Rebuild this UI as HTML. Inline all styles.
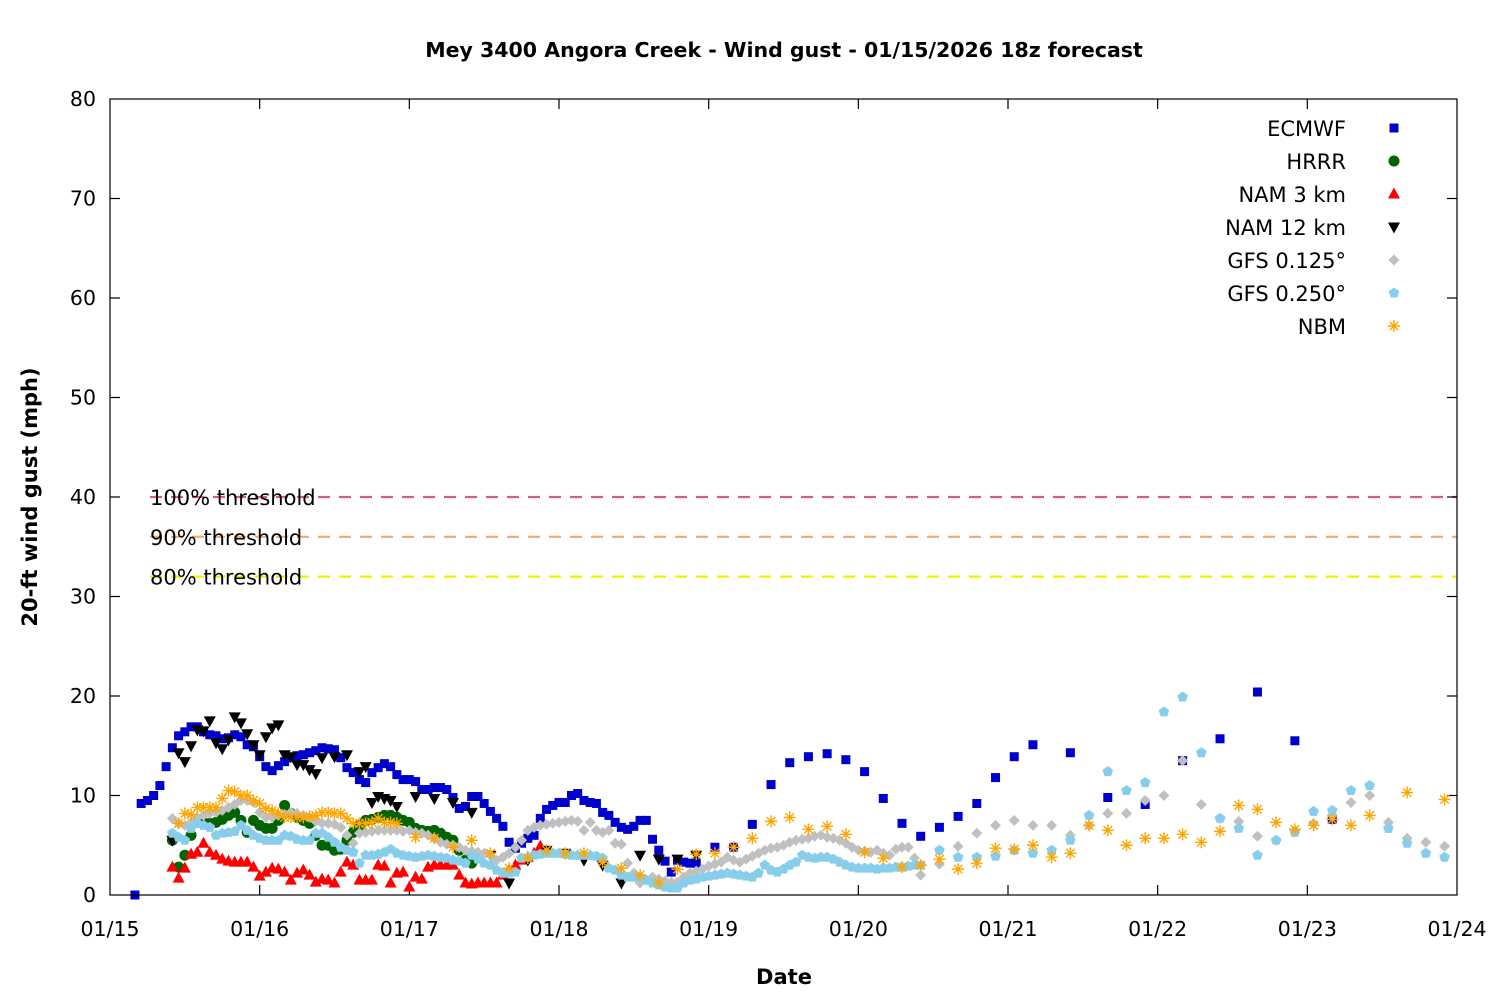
<!DOCTYPE html>
<html><head><meta charset="utf-8"><style>
html,body{margin:0;padding:0;background:#fff;}
svg{display:block;font-family:"DejaVu Sans","Liberation Sans",sans-serif;}
</style></head><body>
<svg id="chart" width="1500" height="1000" viewBox="0 0 1500 1000" xmlns="http://www.w3.org/2000/svg">
<rect x="0" y="0" width="1500" height="1000" fill="#fff"/>
<text x="784" y="57" text-anchor="middle" font-size="20.5" font-weight="bold">Mey 3400 Angora Creek - Wind gust - 01/15/2026 18z forecast</text>
<text x="784" y="984" text-anchor="middle" font-size="21" font-weight="bold">Date</text>
<text transform="translate(37,497) rotate(-90)" text-anchor="middle" font-size="21" font-weight="bold">20-ft wind gust (mph)</text>
<g id="thresholds"></g>
<g id="axes"></g>
<g id="marks"></g>
<g id="legend"></g>
<rect x="110" y="99" width="1347" height="796" fill="none" stroke="#000" stroke-width="1.2"/>
</svg>
<script>
// ---- data ----
const xTickLabels = ["01/15","01/16","01/17","01/18","01/19","01/20","01/21","01/22","01/23","01/24"];
const yTickValues = [0,10,20,30,40,50,60,70,80];
const thresholdValues = [40,36,32];
const thresholdLabels = ["100% threshold","90% threshold","80% threshold"];
const seriesNames = ["ECMWF","HRRR","NAM 3 km","NAM 12 km","GFS 0.125°","GFS 0.250°","NBM"];

const ecmwfHourlyStart = 4;
const ecmwfHourly = [0,9.2,9.5,10,11,12.9,14.8,16,16.4,16.9,16.9,16.4,16.1,16,15.7,15.8,16.1,15.9,15.1,14.9,13.9,12.9,12.5,13,13.4,13.8,14,14.1,14.3,14.5,14.8,14.7,14.6,13.8,12.8,12.3,11.6,11.3,12.3,12.8,13.2,12.9,12.1,11.6,11.6,11.4,10.6,10.6,10.8,10.8,10.6,9.8,8.7,8.9,9.9,9.9,9.2,8.4,7.7,6.9,5.3,4.7,5.2,5.7,6,7.7,8.6,9,9.3,9.3,10,10.2,9.5,9.3,9.2,8.3,8.0,7.3,6.8,6.6,6.9,7.5,7.5,5.6,4.5,3.4,2.3,3.5,3.3,3.2,3.2];
const ecmwf3hStart = 97;
const ecmwf3h = [4.8,4.8,7.1,11.1,13.3,13.9,14.2,13.6,12.4,9.7,7.2,5.9,6.8,7.9,9.2,11.8,13.9,15.1];
const ecmwf6hStart = 154;
const ecmwf6h = [14.3,9.8,9.1,13.5,15.7,20.4,15.5,7.6];

const hrrrStart = 10;
const hrrr = [5.5,2.8,4,6,7.3,7.3,7.2,7.3,7.6,8,8.3,7.5,6.3,7.5,7,6.7,6.7,7.5,9,8.2,7.8,7.5,7.2,6,5,5,4.5,4.6,5.5,6.3,7,7.5,7.6,7.8,8,8,7.8,7.5,7.3,6.7,6.5,6.4,6.5,6.2,5.8,5.5,4.5,3.5,3.2];

const nam3Start = 10;
const nam3 = [2.8,1.7,2.7,4.1,4.3,5.2,4.3,4,3.6,3.4,3.3,3.3,3.3,2.8,1.9,2.3,2.7,2.6,2.3,1.5,2.2,2.5,2,1.3,1.6,1.5,1.2,2.3,3.3,3,1.5,1.5,1.5,3,2.9,1.2,2.2,2.3,0.8,1.8,1.6,2.8,3,3,3,3,2,1.2,1.1,1.2,1.2,1.2,1.2,2,2.5,3,3.5,3.8,4.2,4.9];

const nam12Hours = [10,11,12,13,14,15,16,17,18,19,20,21,22,23,24,25,26,27,28,29,30,31,32,33,34,36,38,40,41,42,43,44,45,46,49,52,55,58,61,64,67,70,73,76,79,82,85,88,91,94];
const nam12 = [5.5,14.3,13.4,15,16.6,16.5,17.5,15.3,14.7,15.6,17.9,17.3,16.2,15.1,14.1,15.9,16.8,17.1,14.1,13.9,13.1,13.1,12.6,12.2,13.8,13.9,14.1,12.4,12.9,9.3,9.9,9.7,9.5,8.9,9.9,9.7,9.3,8.3,4,1.2,3.5,4.5,4.2,3.5,3,1.2,4,3.6,3.6,4];

const gfs125Start = 10;
const gfs125Hourly = [7.7,7.2,7,7.3,7.8,8,8.2,8.3,8.5,8.8,9.1,9.5,9.5,9.3,8.3,7.8,7.8,8,8.1,8.3,8.2,8,7.8,7.4,7.2,7.2,7.1,6.8,6,5.2,6.2,6.3,6.4,6.5,6.5,6.5,6.5,6.4,6.5,6.3,6.2,6,5.7,5.3,5.1,5,4.8,4.5,4.4,4.3,4.2,4,3.5,3.8,4.2,4.8,5.5,6.5,6.8,7,7.1,7.2,7.3,7.4,7.5,7.4,6.5,7.3,6.5,6.3,6.5,5.2,5.1,3.2,2.2,1.2,1.5,1.8,1.6,1.4,1.3,1.3,1.8,2.2,2.4,2.6,2.9,3.1,3.3,3.8,3.5,3.3,3.6,3.9,4.2,4.5,4.7,4.8,5,5.3,5.5,5.6,5.7,5.9,6,5.8,5.7,5.5,5.2,4.8,4.5,4.4,4.3,4.5,4.2,4.0,4.6,4.8,4.8,3.7,2.0];
const gfs125ThreeStart = 133;
const gfs125Three = [3.1,4.9,6.2,7,7.5,7,7,6,7,8.2,8.2,9.5,10,13.5,9.1,7.7,7.4,5.9,5.5,6.5,7.2,8,9.3,10,7.3,5.7,5.3,4.9];

const gfs250Start = 10;
const gfs250Hourly = [6.2,5.8,5.5,6.7,7.2,7,6.8,6,6.2,6.3,6.4,7,6.5,6,5.7,5.5,5.5,5.5,6,5.9,5.6,5.5,5.5,6.2,6.2,5.8,5.3,4.8,4.5,4.3,3.2,4,4,4.1,4.3,4.6,4.2,4,3.9,3.8,3.9,4,3.9,3.8,3.7,3.5,3.4,3.2,4,3.6,3.2,3,2.5,2.2,2.2,2.3,3.7,3.8,4,4.1,4.2,4.2,4.2,4.1,4,4,4,4,3.9,3.7,2.7,2.5,2,1.8,1.8,1.8,1.5,1.2,1,0.8,0.7,0.7,1.2,1.5,1.6,1.8,1.9,2,2.1,2.2,2.1,2,1.9,1.8,2.2,3,2.5,2.3,2.6,3,3.3,4,3.8,3.7,3.8,3.8,3.6,3.3,3,2.8,2.7,2.7,2.7,2.6,2.7,2.7,2.8,2.8,2.9,3,3];
const gfs250ThreeStart = 133;
const gfs250Three = [4.5,3.8,3.8,3.9,4.5,4.2,4.5,5.5,8,12.4,10.5,11.3,18.4,19.9,14.3,7.7,6.7,4,5.5,6.3,8.4,8.5,10.5,11,6.7,5.2,4.2,3.8];

const nbmHourlyStart = 11;
const nbmHourly = [7.2,8.2,8.1,8.8,8.8,8.8,8.8,9.7,10.5,10.4,10,10,9.5,9.2,8.7,8.5,8.2,7.8,7.8,7.8,7.8,7.9,8,8.3,8.3,8.2,8.2,7.7,7.2,7.2,7.2,7.3,7.7,7.3,7.3,7.2];
const nbmThreeStart = 49;
const nbmThree = [5.8,5.7,4.8,5.5,4.2,2.7,3.7,4.5,4.2,4.2,3.3,2.7,2,1.2,2.6,4.1,4.2,4.8,5.7,7.4,7.8,6.6,6.9,6.1,4.3,3.7,2.8,3,3.6,2.6,3.2,4.7,4.6,5,3.8,4.2,7,6.5,5,5.7,5.7,6.1,5.3,6.4,9,8.6,7.3,6.6,7,7.6,7,8];
const nbmSixStart = 208;
const nbmSix = [10.3,9.6];

// ---- scales ----
const X0 = 110, X1 = 1457, Y0 = 895, Y1 = 99, HMAX = 216, VMAX = 80;
function xs(h){ return X0 + h * (X1 - X0) / HMAX; }
function ys(v){ return Y0 - v * (Y0 - Y1) / VMAX; }
function seq(start, step, vals){ return vals.map((v,i)=>({h:start+i*step, v:v})); }
function pairs(hours, vals){ return vals.map((v,i)=>({h:hours[i], v:v})); }

const NS = "http://www.w3.org/2000/svg";
function mk(tag, attrs, parent){
  const e = document.createElementNS(NS, tag);
  for (const k in attrs) e.setAttribute(k, attrs[k]);
  parent.appendChild(e);
  return e;
}

// ---- axes ----
const axes = document.getElementById('axes');
yTickValues.forEach(v=>{
  const y = ys(v);
  const t = mk('text',{x:96,y:y+7,'text-anchor':'end','font-size':20.5},axes);
  t.textContent = v;
  
  
  if (v>0 && v<80){
    const l1 = mk('line',{x1:X0,x2:X0+10,y1:y,y2:y,stroke:'#000','stroke-width':1.2},axes);
    
    
    const l2 = mk('line',{x1:X1-10,x2:X1,y1:y,y2:y,stroke:'#000','stroke-width':1.2},axes);
    
    
  }
});
xTickLabels.forEach((lab,i)=>{
  const x = xs(i*24);
  const t = mk('text',{x:x,y:936,'text-anchor':'middle','font-size':20.5},axes);
  t.textContent = lab;
  
  
  if (i>0 && i<xTickLabels.length-1){
    const l1 = mk('line',{x1:x,x2:x,y1:Y0,y2:Y0-10,stroke:'#000','stroke-width':1.2},axes);
    
    
    const l2 = mk('line',{x1:x,x2:x,y1:Y1,y2:Y1+10,stroke:'#000','stroke-width':1.2},axes);
    
    
  }
});

// ---- thresholds ----
const thr = document.getElementById('thresholds');
const thrColors = ['#d4607e','#f2a86e','#f0f000'];
thresholdValues.forEach((v,i)=>{
  const y = ys(v);
  const l = mk('line',{x1:150,x2:X1,y1:y,y2:y,stroke:thrColors[i],'stroke-width':2.2,'stroke-dasharray':'12,9'},thr);
  
  
  const t = mk('text',{x:150,y:y+8,'font-size':21},thr);
  t.textContent = thresholdLabels[i];
  
  
});

// ---- markers ----
function marker(type, x, y, parent){
  let e;
  if (type==='square') e = mk('rect',{x:x-4.5,y:y-4.5,width:9,height:9,fill:'#0000cc'},parent);
  else if (type==='circle') e = mk('circle',{cx:x,cy:y,r:5.5,fill:'#006400'},parent);
  else if (type==='tri') e = mk('polygon',{points:`${x},${y-6.5} ${x+6},${y+4.5} ${x-6},${y+4.5}`,fill:'#ff0000'},parent);
  else if (type==='itri') e = mk('polygon',{points:`${x},${y+6.5} ${x+6},${y-4.5} ${x-6},${y-4.5}`,fill:'#000'},parent);
  else if (type==='diamond') e = mk('polygon',{points:`${x},${y-5.5} ${x+5.5},${y} ${x},${y+5.5} ${x-5.5},${y}`,fill:'#c0c0c0'},parent);
  else if (type==='pent') e = mk('polygon',{points:`${x},${y-5.5} ${x+5.3},${y-1.7} ${x+3.3},${y+4.5} ${x-3.3},${y+4.5} ${x-5.3},${y-1.7}`,fill:'#87ceeb'},parent);
  else if (type==='star'){
    e = mk('path',{d:`M${x-6} ${y}H${x+6}M${x} ${y-6}V${y+6}M${x-4.3} ${y-4.3}L${x+4.3} ${y+4.3}M${x-4.3} ${y+4.3}L${x+4.3} ${y-4.3}`,stroke:'#ffa500','stroke-width':1.4,fill:'none'},parent);
  }
  return e;
}

const series = [
  {name:'ecmwf', type:'square', pts: seq(ecmwfHourlyStart,1,ecmwfHourly).concat(seq(ecmwf3hStart,3,ecmwf3h), seq(ecmwf6hStart,6,ecmwf6h))},
  {name:'hrrr', type:'circle', pts: seq(hrrrStart,1,hrrr)},
  {name:'nam-3km', type:'tri', pts: seq(nam3Start,1,nam3)},
  {name:'nam-12km', type:'itri', pts: pairs(nam12Hours,nam12)},
  {name:'gfs-0125', type:'diamond', pts: seq(gfs125Start,1,gfs125Hourly).concat(seq(gfs125ThreeStart,3,gfs125Three))},
  {name:'gfs-0250', type:'pent', pts: seq(gfs250Start,1,gfs250Hourly).concat(seq(gfs250ThreeStart,3,gfs250Three))},
  {name:'nbm', type:'star', pts: seq(nbmHourlyStart,1,nbmHourly).concat(seq(nbmThreeStart,3,nbmThree), seq(nbmSixStart,6,nbmSix))}
];
const marks = document.getElementById('marks');
series.forEach(s=>{
  const g = mk('g',{},marks);
  
  
  s.pts.forEach(p=>{
    const m = marker(s.type, xs(p.h), ys(p.v), g);
    
    
  });
});

// ---- legend ----
const legend = document.getElementById('legend');
seriesNames.forEach((n,i)=>{
  const y = 128 + i*33;
  const t = mk('text',{x:1346,y:y+8,'text-anchor':'end','font-size':21},legend);
  t.textContent = n;
  
  
  const m = marker(series[i].type, 1394, y, legend);
  
  
});
</script>
</body></html>
